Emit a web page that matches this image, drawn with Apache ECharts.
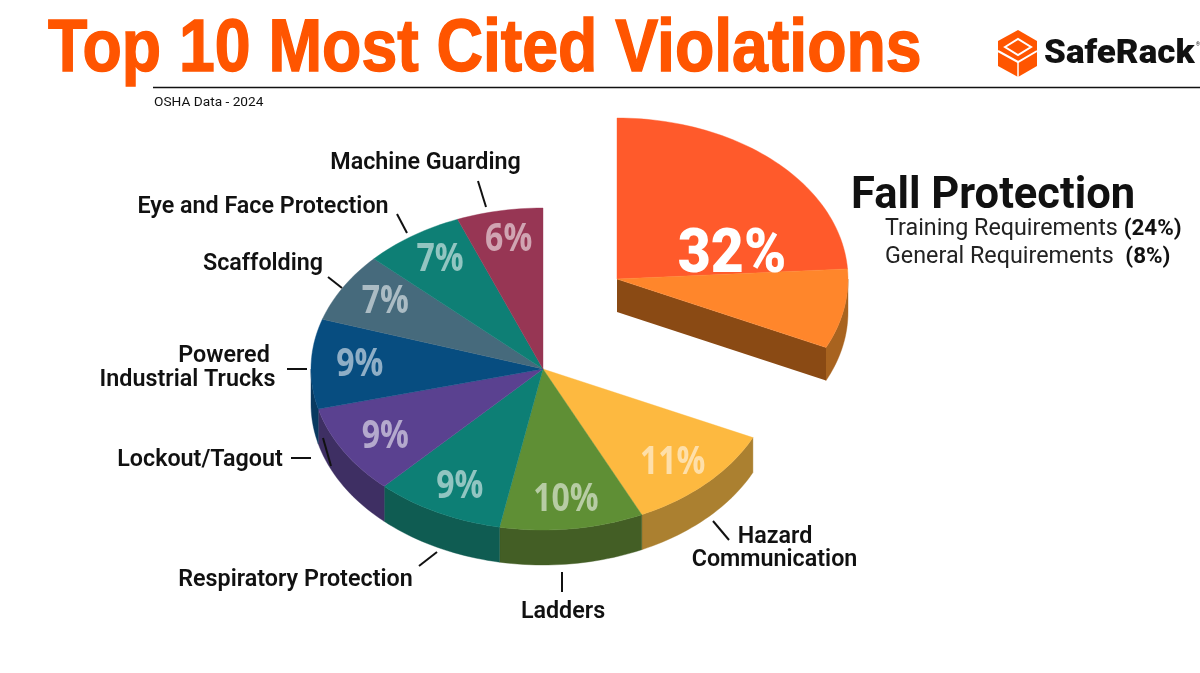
<!DOCTYPE html>
<html><head><meta charset="utf-8">
<style>html,body{margin:0;padding:0;background:#fff}#c{width:1200px;height:673px}</style>
<script src="https://cdn.jsdelivr.net/npm/echarts@6/dist/echarts.min.js"></script>
</head><body><div id="c"></div>
<script>
const categories = ['Fall Protection: Training Requirements','Fall Protection: General Requirements','Hazard Communication','Ladders','Respiratory Protection','Lockout/Tagout','Powered Industrial Trucks','Scaffolding','Eye and Face Protection','Machine Guarding'];
const values = [24,8,11,10,9,9,9,7,7,6];
const explodedCount = 2;
const topColors = ['#FF5A2B','#FF862B','#FDB940','#5F8F35','#0D7F75','#5A4190','#074D80','#466A7C','#0E7F75','#973654'];
const wallColors = ['#A8631F','#A8631F','#AB8030','#435E25','#0F5C52','#3E2F63','#093A60','#333','#333','#333'];
const radialWallColor = '#8A4A14';

const FONT = 'Roboto, sans-serif';
const main = {cx:543, cy:369, rx:232, ry:161, depth:35};
const exploded = {cx:617, cy:279, rx:231, ry:161, depth:33};
const total = values.reduce((a,b)=>a+b,0);
const starts = []; values.reduce((a,v,i)=>(starts[i]=a,a+v),0);
// angle in degrees clockwise from 12 o'clock
const ang = v => v/total*360;
const pt = (g,a,dy=0)=>{const r=a*Math.PI/180;return [g.cx+g.rx*Math.sin(r), g.cy-g.ry*Math.cos(r)+dy];};
const arc = (g,a0,a1,dy=0)=>{const n=Math.max(2,Math.ceil((a1-a0)/1.5)),o=[];for(let i=0;i<=n;i++)o.push(pt(g,a0+(a1-a0)*i/n,dy));return o;};

function renderItem(params, api){
  const i = params.dataIndex, v = api.value(0);
  const isEx = i < explodedCount;
  const g = isEx ? exploded : main;
  const a0 = ang(starts[i]), a1 = a0 + ang(v);
  const children = [];
  // outer rim, visible on the near half only
  const w0 = Math.max(a0,90), w1 = Math.min(a1,270);
  if (w1 > w0) {
    const topEdge = arc(g,w0,w1), botEdge = arc(g,w0,w1,g.depth).reverse();
    children.push({type:'polygon',shape:{points:topEdge.concat(botEdge)},style:{fill:wallColors[i],stroke:wallColors[i],lineWidth:.4}});
  }
  // cut face of the pulled-out wedge
  if (i === explodedCount-1) {
    const e = pt(g,a1), c=[g.cx,g.cy];
    children.push({type:'polygon',shape:{points:[c,e,[e[0],e[1]+g.depth],[c[0],c[1]+g.depth]]},style:{fill:radialWallColor}});
  }
  children.push({type:'polygon',shape:{points:[[g.cx,g.cy]].concat(arc(g,a0,a1))},style:{fill:topColors[i],stroke:topColors[i],lineWidth:.4}});
  if (!isEx) {
    const m = (a0+a1)/2*Math.PI/180;
    children.push({type:'text',x:g.cx+g.rx*.79*Math.sin(m),y:g.cy-g.ry*.82*Math.cos(m),scaleX:.8,
      style:{text:v+'%',fill:'rgba(255,255,255,0.55)',font:'700 40px "Open Sans", sans-serif',textAlign:'center',textVerticalAlign:'middle'}});
  }
  return {type:'group',children};
}

const txt=(text,x,y,size,weight,align,extra)=>Object.assign({type:'text',x,y,z:20,
  style:{text,fill:'#111',font:`${weight} ${size}px ${FONT}`,textAlign:align||'left',textVerticalAlign:'middle'}},extra||{});
const seg=(x1,y1,x2,y2,w,c)=>({type:'line',z:20,shape:{x1,y1,x2,y2},style:{stroke:c||'#111',lineWidth:w||2}});

const labels = [
 ['Machine Guarding',425.5,163],['Eye and Face Protection',263,207.5],['Scaffolding',263,264],
 ['Powered',224,356],['Industrial Trucks',187.5,380],['Lockout/Tagout',200,460],
 ['Respiratory Protection',295.5,580],['Ladders',563,612],['Hazard',775,537],['Communication',774.5,560]
];
const leaders = [[478,181,486,207],[397,214,407,233],[328,277,342,288],[287,369,307,369],[291,458,311,458],[323,438,331,466],[419,566,437,552],[562,572,562,592],[713,521,729,540]];

const orange='#FF5500';
const graphic = [
 {type:'text',x:48,y:50,z:20,scaleX:.858,style:{text:'Top 10 Most Cited Violations',fill:orange,stroke:orange,lineWidth:1.5,font:'700 75px "Liberation Sans", sans-serif',textVerticalAlign:'middle'}},
 seg(153,87.5,1200,87.5,1.5),
 txt('OSHA Data - 2024',154,103,13.7,400),
 {type:'polygon',z:20,shape:{points:[[1018,30],[1037,41],[1037,66],[1018,77],[998,66],[998,41]]},style:{fill:orange}},
 {type:'polyline',z:21,shape:{points:[[998,51],[1018,62],[1037,51]]},style:{stroke:'#fff',lineWidth:2,fill:null}},
 {type:'line',z:21,shape:{x1:1018,y1:62,x2:1018,y2:77},style:{stroke:'#fff',lineWidth:1.5}},
 {type:'polygon',z:21,shape:{points:[[1005,47],[1018,39],[1031,47],[1018,55]]},style:{fill:orange,stroke:'#fff',lineWidth:2}},
 {type:'polygon',z:21,shape:{points:[[1011,47],[1018,43],[1025,47],[1018,51]]},style:{fill:orange}},
 txt('SafeRack',1044,54.5,33,900,'left',{scaleX:1.06}),
 txt('®',1196,45,5,400),
 txt('Fall Protection',851,197,43.5,700),
 {type:'text',x:885,y:229.5,z:20,style:{text:'{a|Training Requirements }{b|(24%)}',textVerticalAlign:'middle',rich:{a:{font:`400 23.3px ${FONT}`,fill:'#222'},b:{font:`700 22.4px ${FONT}`,fill:'#111'}}}},
 {type:'text',x:885,y:257,z:20,style:{text:'{a|General Requirements  }{b|(8%)}',textVerticalAlign:'middle',rich:{a:{font:`400 23.3px ${FONT}`,fill:'#222'},b:{font:`700 22.4px ${FONT}`,fill:'#111'}}}},
 {type:'text',x:732,y:256,z:20,scaleX:.92,style:{text:(values[0]+values[1])+'%',fill:'#fff',font:`900 62px ${FONT}`,textAlign:'center',textVerticalAlign:'middle'}},
].concat(
 labels.map(l=>txt(l[0],l[1],l[2],23.3,600,'center')),
 leaders.map(l=>seg(l[0],l[1],l[2],l[3],2))
);

const chart = echarts.init(document.getElementById('c'),null,{renderer:'canvas'});
chart.setOption({
  animation:false, backgroundColor:'#fff',
  tooltip:{show:false},
  graphic:{elements:graphic},
  series:[{type:'custom',coordinateSystem:'none',silent:true,z:1,renderItem,
    data:values.map((v,i)=>({name:categories[i],value:[v]}))}]
});
</script></body></html>
